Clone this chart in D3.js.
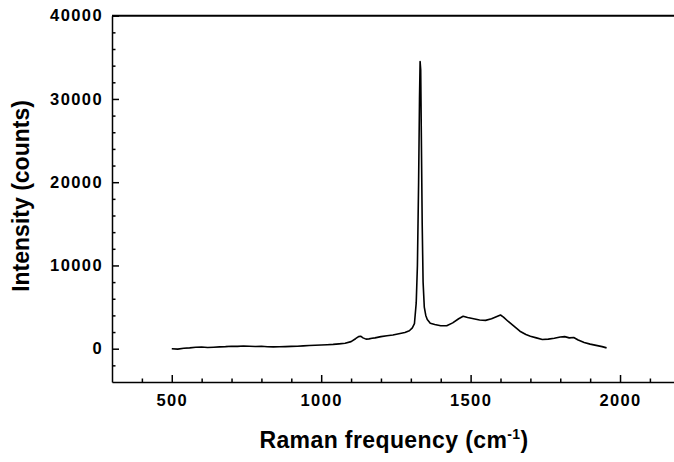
<!DOCTYPE html>
<html lang="en">
<head>
    <meta charset="UTF-8">
    <title>Raman spectrum</title>
    <style>
        body {
            margin: 0;
            padding: 0;
            background-color: #ffffff;
        }
        svg {
            display: block;
            font-family: "Liberation Sans", Arial, sans-serif;
        }
        .tick text {
            font-size: 16.5px;
            font-weight: bold;
            fill: #000;
            letter-spacing: 1.4px;
        }
        .axis path, .axis line {
            stroke: #000;
            stroke-width: 1.5px;
        }
        .title {
            font-size: 23px;
            font-weight: bold;
            fill: #000;
        }
    </style>
    <script src="https://d3js.org/d3.v7.min.js"></script>
</head>
<body>
    <script>
        const width = 674;
        const height = 462;

        // spectrum (cm-1, counts)
        const ramanShift = [
            500, 520, 540, 560, 580, 600, 620, 640, 660, 680,
            700, 720, 740, 760, 780, 800, 820, 840, 860, 880,
            900, 920, 940, 960, 980, 1000, 1020, 1040, 1060, 1080,
            1100, 1115, 1125, 1132, 1140, 1150, 1160, 1170, 1180, 1200,
            1220, 1240, 1260, 1280, 1295, 1305, 1312, 1318, 1322, 1326,
            1329, 1331, 1333, 1335, 1338, 1341, 1345, 1350, 1355, 1365,
            1380, 1400, 1420, 1440, 1460, 1475, 1490, 1510, 1530, 1550,
            1570, 1590, 1600, 1610, 1625, 1645, 1665, 1685, 1700, 1720,
            1740, 1760, 1780, 1800, 1815, 1830, 1845, 1860, 1880, 1900,
            1920, 1940, 1955
        ];
        const intensity = [
            0, -50, 60, 100, 180, 200, 150, 180, 220, 250,
            300, 280, 320, 300, 270, 300, 240, 220, 230, 250,
            280, 300, 340, 380, 420, 450, 480, 520, 580, 650,
            850, 1200, 1450, 1500, 1300, 1150, 1180, 1250, 1300, 1450,
            1550, 1650, 1800, 1950, 2150, 2500, 3000, 5500, 10000, 20000,
            30000, 34500, 33500, 26000, 15000, 8000, 5000, 4000, 3500, 3050,
            2900, 2750, 2750, 3100, 3600, 3900, 3750, 3600, 3450, 3400,
            3600, 3900, 4050, 3800, 3300, 2700, 2100, 1700, 1500, 1300,
            1100, 1150, 1250, 1400, 1450, 1300, 1350, 1050, 750, 550,
            400, 250, 100
        ];

        const xMajor = [500, 1000, 1500, 2000];
        const xMinor = [400, 600, 700, 800, 900, 1100, 1200, 1300, 1400, 1600, 1700, 1800, 1900, 2100];
        const yMajor = [0, 10000, 20000, 30000, 40000];
        const yMinor = [-2000, 2000, 4000, 6000, 8000, 12000, 14000, 16000, 18000,
            22000, 24000, 26000, 28000, 32000, 34000, 36000, 38000];

        const x = d3.scaleLinear().domain([300, 2200]).range([112, 679.8]);
        const y = d3.scaleLinear().domain([-4000, 40000]).range([382, 15.7]);

        const svg = d3.select("body").append("svg")
            .attr("width", width)
            .attr("height", height);

        // top frame line
        svg.append("line")
            .attr("x1", x(300)).attr("x2", x(2200))
            .attr("y1", y(40000)).attr("y2", y(40000))
            .attr("stroke", "#000")
            .attr("stroke-width", 2);

        // minor ticks
        svg.append("g")
            .attr("class", "axis")
            .attr("transform", `translate(0,${y(-4000)})`)
            .call(d3.axisBottom(x).tickValues(xMinor).tickSize(-3.5).tickFormat(""))
            .call(g => g.select(".domain").remove());
        svg.append("g")
            .attr("class", "axis")
            .attr("transform", `translate(${x(300)},0)`)
            .call(d3.axisLeft(y).tickValues(yMinor).tickSize(-3.5).tickFormat(""))
            .call(g => g.select(".domain").remove());

        // major axes
        svg.append("g")
            .attr("class", "axis")
            .attr("transform", `translate(0,${y(-4000)})`)
            .call(d3.axisBottom(x).tickValues(xMajor).tickSize(-7).tickSizeOuter(0).tickPadding(12).tickFormat(d3.format("d")));
        svg.append("g")
            .attr("class", "axis")
            .attr("transform", `translate(${x(300)},0)`)
            .call(d3.axisLeft(y).tickValues(yMajor).tickSize(-7).tickSizeOuter(0).tickPadding(9).tickFormat(d3.format("d")));

        const line = d3.line()
            .x((d, i) => x(ramanShift[i]))
            .y(d => y(d));

        svg.append("path")
            .datum(intensity)
            .attr("d", line)
            .attr("fill", "none")
            .attr("stroke", "#000")
            .attr("stroke-width", 1.6)
            .attr("stroke-linejoin", "round");

        // axis titles
        const xt = svg.append("text")
            .attr("class", "title")
            .attr("x", 394)
            .attr("y", 448)
            .attr("letter-spacing", 0.4)
            .attr("text-anchor", "middle");
        xt.append("tspan").text("Raman frequency (cm");
        xt.append("tspan").attr("dy", -9).attr("font-size", 14).text("-1");
        xt.append("tspan").attr("dy", 9).text(")");

        svg.append("text")
            .attr("class", "title")
            .attr("transform", "translate(28.5,196) rotate(-90)")
            .attr("text-anchor", "middle")
            .text("Intensity (counts)");
    </script>
</body>
</html>
